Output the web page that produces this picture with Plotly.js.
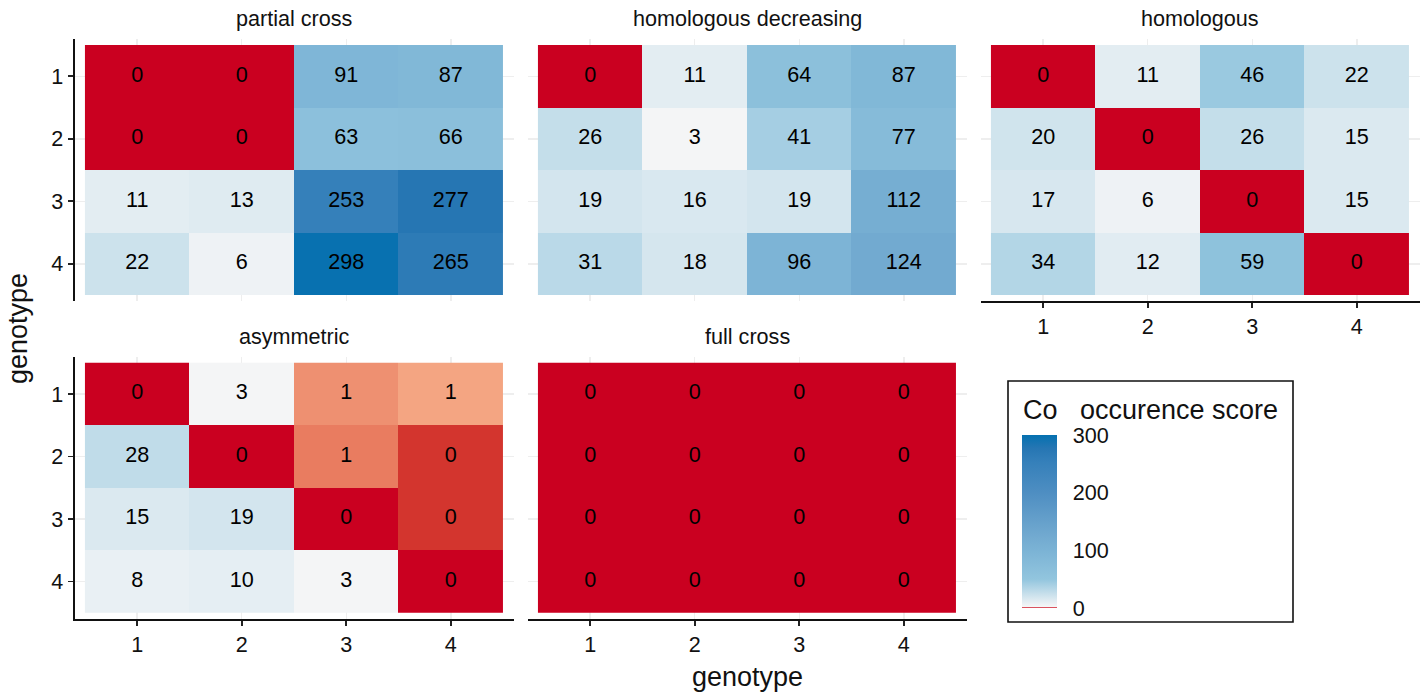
<!DOCTYPE html>
<html><head><meta charset="utf-8">
<script src="https://cdn.plot.ly/plotly-3.0.1.min.js"></script>
<style>html,body{margin:0;padding:0;background:#fff}#chart{width:1421px;height:692px}</style>
</head><body><div id="chart"></div>
<script>
// ---- data ----
const genotypes = [1, 2, 3, 4];
const panelNames = ['partial cross', 'homologous decreasing', 'homologous', 'asymmetric', 'full cross'];

const countsPartialCross = [[0,0,91,87],[0,0,63,66],[11,13,253,277],[22,6,298,265]];
const countsHomologousDecreasing = [[0,11,64,87],[26,3,41,77],[19,16,19,112],[31,18,96,124]];
const countsHomologous = [[0,11,46,22],[20,0,26,15],[17,6,0,15],[34,12,59,0]];
const countsAsymmetric = [[0,3,1,1],[28,0,1,0],[15,19,0,0],[8,10,3,0]];
const countsFullCross = [[0,0,0,0],[0,0,0,0],[0,0,0,0],[0,0,0,0]];

// red (depleted) cells: shade level, null = cell shown on the blue count scale
const redPartialCross = [[1,1,null,null],[1,1,null,null],[null,null,null,null],[null,null,null,null]];
const redHomologousDecreasing = [[1,null,null,null],[null,null,null,null],[null,null,null,null],[null,null,null,null]];
const redHomologous = [[1,null,null,null],[null,1,null,null],[null,null,1,null],[null,null,null,1]];
const redAsymmetric = [[1,null,0.18,0],[null,1,0.35,0.75],[null,null,1,0.75],[null,null,null,1]];
const redFullCross = [[1,1,1,1],[1,1,1,1],[1,1,1,1],[1,1,1,1]];

const legendTicks = [0, 100, 200, 300];
const legendTitle = 'Co\u00a0\u00a0 occurence score';
const axisTitle = 'genotype';

// ---- layout geometry (pixels) ----
const W = 1421, H = 692;
const colPx = [[74.5, 513.5], [527.5, 966.5], [980.5, 1419.5]];
const rowPx = [[38.75, 301.25], [356.5, 619]];
const px = v => v / W;
const py = v => 1 - v / H;

const panels = [
  {counts: countsPartialCross, red: redPartialCross, col: 0, row: 0, showX: false, showY: true},
  {counts: countsHomologousDecreasing, red: redHomologousDecreasing, col: 1, row: 0, showX: false, showY: false},
  {counts: countsHomologous, red: redHomologous, col: 2, row: 0, showX: true, showY: false},
  {counts: countsAsymmetric, red: redAsymmetric, col: 0, row: 1, showX: true, showY: true},
  {counts: countsFullCross, red: redFullCross, col: 1, row: 1, showX: true, showY: false}
];

const FONT = '"Liberation Sans", Arial, Helvetica, sans-serif';
const blueScale = [
  [0,'#D9535F'],[0.0045,'#D9535F'],[0.005,'#F7F7F7'],[0.1667,'#92C5DE'],
  [0.333,'#7BB3D5'],[0.413,'#72AAD0'],[0.667,'#4E8EC2'],[0.843,'#3580BA'],
  [0.923,'#2676B3'],[1,'#0571B0']
];
const redScale = [[0,'#F4A582'],[0.35,'#E97C60'],[0.75,'#D3352E'],[1,'#CA0020']];

const traces = [];
const layout = {
  width: W, height: H,
  margin: {l:0, r:0, t:0, b:0, pad:0},
  paper_bgcolor: '#fff', plot_bgcolor: 'rgba(0,0,0,0)',
  font: {family: FONT, color: '#111'},
  showlegend: false,
  annotations: [], shapes: []
};

panels.forEach((p, i) => {
  const sfx = i === 0 ? '' : String(i + 1);
  const xa = 'x' + sfx, ya = 'y' + sfx;
  const blueZ = p.counts.map((r, ri) => r.map((v, ci) => p.red[ri][ci] === null ? v : null));
  traces.push({
    type: 'heatmap', x: genotypes, y: genotypes, z: blueZ,
    xaxis: xa, yaxis: ya, colorscale: blueScale, zmin: 0, zmax: 300,
    showscale: i === 0, hoverinfo: 'skip',
    colorbar: {
      x: px(1022), xanchor: 'left', xref: 'paper', y: py(521.5), yanchor: 'middle', yref: 'paper',
      len: 173, lenmode: 'pixels', thickness: 35, thicknessmode: 'pixels',
      outlinewidth: 0, xpad: 0, ypad: 0,
      tickvals: legendTicks, ticktext: legendTicks.map(String),
      ticks: 'outside', ticklen: 12, tickwidth: 1, tickcolor: 'rgba(255,255,255,0)',
      tickfont: {size: 21.6, color: '#111', family: FONT}
    }
  });
  traces.push({
    type: 'heatmap', x: genotypes, y: genotypes, z: p.red,
    xaxis: xa, yaxis: ya, colorscale: redScale, zmin: 0, zmax: 1,
    showscale: false, hoverinfo: 'skip'
  });
  const tx = [], ty = [], tt = [];
  p.counts.forEach((r, ri) => r.forEach((v, ci) => { tx.push(genotypes[ci]); ty.push(genotypes[ri]); tt.push(String(v)); }));
  traces.push({
    type: 'scatter', mode: 'text', x: tx, y: ty, text: tt, xaxis: xa, yaxis: ya,
    textposition: 'middle center', textfont: {size: 21.6, color: '#000', family: FONT},
    hoverinfo: 'skip'
  });

  const c = colPx[p.col], r = rowPx[p.row];
  layout['xaxis' + sfx] = {
    domain: [px(c[0]), px(c[1])], anchor: ya, range: [0.4, 4.6],
    tickvals: genotypes, ticktext: genotypes.map(String),
    showticklabels: p.showX, ticks: p.showX ? 'outside' : '', ticklen: 5, tickwidth: 1.8, tickcolor: '#222',
    showline: p.showX, linecolor: '#111', linewidth: 2,
    showgrid: true, gridcolor: '#EEEEEE', gridwidth: 1.5, zeroline: false,
    tickfont: {size: 21.6, color: '#111', family: FONT}, fixedrange: true
  };
  layout['yaxis' + sfx] = {
    domain: [py(r[1]), py(r[0])], anchor: xa, range: [4.6, 0.4],
    tickvals: genotypes, ticktext: genotypes.map(String),
    showticklabels: p.showY, ticks: p.showY ? 'outside' : '', ticklen: 5, tickwidth: 1.8, tickcolor: '#222',
    showline: p.showY, linecolor: '#111', linewidth: 2,
    showgrid: true, gridcolor: '#EEEEEE', gridwidth: 1.5, zeroline: false,
    tickfont: {size: 21.6, color: '#111', family: FONT}, fixedrange: true
  };
  layout.annotations.push({
    text: panelNames[i], xref: 'paper', yref: 'paper',
    x: px((c[0] + c[1]) / 2), y: py(p.row === 0 ? 18 : 336),
    xanchor: 'center', yanchor: 'middle', showarrow: false,
    font: {size: 21.6, color: '#111', family: FONT}
  });
});

// axis titles
layout.annotations.push({
  text: axisTitle, xref: 'paper', yref: 'paper', x: px(747.5), y: py(677),
  xanchor: 'center', yanchor: 'middle', showarrow: false,
  font: {size: 27, color: '#111', family: FONT}
});
layout.annotations.push({
  text: axisTitle, xref: 'paper', yref: 'paper', x: px(18), y: py(329),
  xanchor: 'center', yanchor: 'middle', showarrow: false, textangle: -90,
  font: {size: 27, color: '#111', family: FONT}
});
// legend title and box
layout.annotations.push({
  text: legendTitle, xref: 'paper', yref: 'paper', x: px(1021), y: py(410),
  xanchor: 'left', yanchor: 'middle', showarrow: false,
  font: {size: 27, color: '#111', family: FONT}
});
layout.shapes.push({
  type: 'rect', xref: 'paper', yref: 'paper',
  x0: px(1008), x1: px(1293), y0: py(622), y1: py(381),
  line: {color: '#111', width: 1.6}, fillcolor: 'rgba(0,0,0,0)', layer: 'above'
});

Plotly.newPlot('chart', traces, layout, {staticPlot: true, displayModeBar: false});
</script>
</body></html>
